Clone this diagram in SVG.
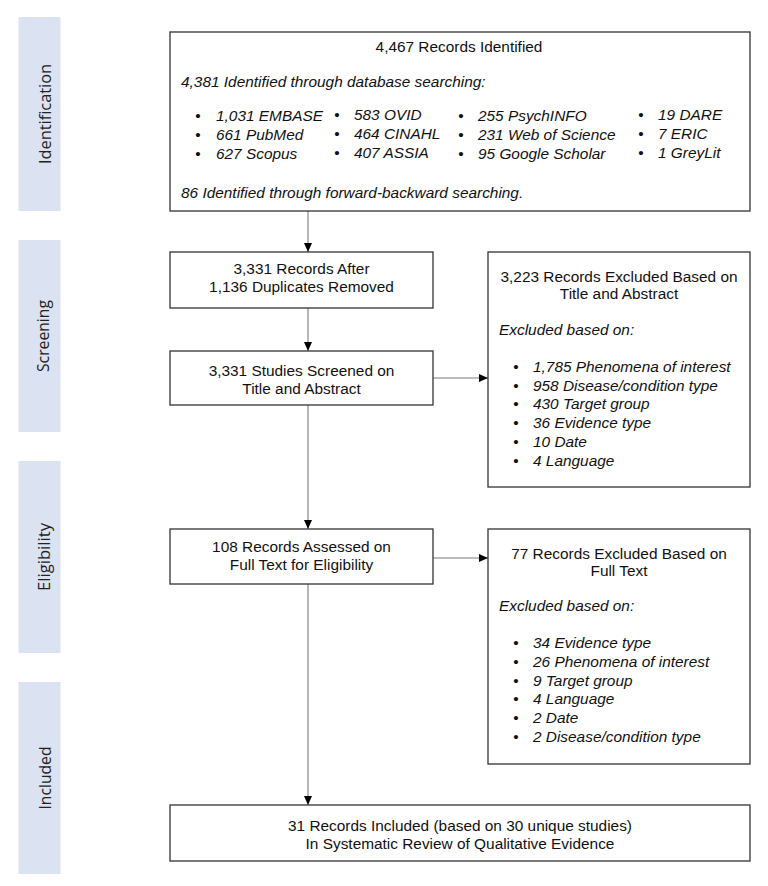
<svg xmlns="http://www.w3.org/2000/svg" width="768" height="886" viewBox="0 0 768 886">
<style>
.bg{fill:#ffffff}
.bar{fill:#dbe2f2}
.lab{font-family:"Open Sans","DejaVu Sans",sans-serif;font-size:16px;fill:#222222;text-anchor:middle}
.box{fill:#ffffff;stroke:#333333;stroke-width:1.3}
.t{font-family:"Liberation Sans",Arial,sans-serif;font-size:15.4px;fill:#111111}
.c{text-anchor:middle}
.i{font-style:italic}
.b{text-anchor:middle}
.con{stroke:#7a7a7a;stroke-width:1.1;fill:none}
</style>
<defs>
<marker id="ah" markerUnits="userSpaceOnUse" markerWidth="10" markerHeight="8" refX="9" refY="4" orient="auto">
<path d="M0,0 L9,4 L0,8 Z" fill="#000000"/>
</marker>
</defs>
<rect class="bg" x="0" y="0" width="768" height="886"/>

<g id="phases">
<rect class="bar" x="18.5" y="17" width="42" height="194"/>
<text class="lab" transform="translate(51,114) rotate(-90)" textLength="100" lengthAdjust="spacingAndGlyphs">Identification</text>
<rect class="bar" x="18.5" y="240" width="42" height="192"/>
<text class="lab" transform="translate(49,336) rotate(-90)" textLength="72" lengthAdjust="spacingAndGlyphs">Screening</text>
<rect class="bar" x="18.5" y="461" width="42" height="192"/>
<text class="lab" transform="translate(50,557) rotate(-90)" textLength="68" lengthAdjust="spacingAndGlyphs">Eligibility</text>
<rect class="bar" x="18.5" y="682" width="42" height="192"/>
<text class="lab" transform="translate(51,778) rotate(-90)" textLength="63" lengthAdjust="spacingAndGlyphs">Included</text>
</g>

<g id="connectors">
<line class="con" x1="308" y1="211" x2="308" y2="252" marker-end="url(#ah)"/>
<line class="con" x1="308" y1="308" x2="308" y2="351" marker-end="url(#ah)"/>
<line class="con" x1="308" y1="405" x2="308" y2="529" marker-end="url(#ah)"/>
<line class="con" x1="308" y1="584" x2="308" y2="805" marker-end="url(#ah)"/>
<line class="con" x1="433" y1="378" x2="488" y2="378" marker-end="url(#ah)"/>
<line class="con" x1="433" y1="558" x2="488" y2="558" marker-end="url(#ah)"/>
</g>

<g id="identified">
<rect class="box" x="170" y="32" width="580" height="179"/>
<text class="t c" x="459" y="51.5">4,467 Records Identified</text>
<text class="t i" x="181" y="86.5">4,381 Identified through database searching:</text>
<text class="t b" x="198" y="121">•</text><text class="t i" x="216" y="121">1,031 EMBASE</text>
<text class="t b" x="198" y="140">•</text><text class="t i" x="216" y="140">661 PubMed</text>
<text class="t b" x="198" y="158.5">•</text><text class="t i" x="216" y="158.5">627 Scopus</text>
<text class="t b" x="337" y="120">•</text><text class="t i" x="354" y="120">583 OVID</text>
<text class="t b" x="337" y="139">•</text><text class="t i" x="354" y="139">464 CINAHL</text>
<text class="t b" x="337" y="157.5">•</text><text class="t i" x="354" y="157.5">407 ASSIA</text>
<text class="t b" x="461" y="121">•</text><text class="t i" x="478" y="121">255 PsychINFO</text>
<text class="t b" x="461" y="140">•</text><text class="t i" x="478" y="140">231 Web of Science</text>
<text class="t b" x="461" y="158.5">•</text><text class="t i" x="478" y="158.5">95 Google Scholar</text>
<text class="t b" x="641" y="120">•</text><text class="t i" x="658" y="120">19 DARE</text>
<text class="t b" x="641" y="139">•</text><text class="t i" x="658" y="139">7 ERIC</text>
<text class="t b" x="641" y="157.5">•</text><text class="t i" x="658" y="157.5">1 GreyLit</text>
<text class="t i" x="181" y="198">86 Identified through forward-backward searching.</text>
</g>

<g id="dedup">
<rect class="box" x="170" y="252" width="263" height="56"/>
<text class="t c" x="301.5" y="273.5">3,331 Records After</text>
<text class="t c" x="301.5" y="291.5">1,136 Duplicates Removed</text>
</g>

<g id="screened">
<rect class="box" x="170" y="351" width="263" height="54"/>
<text class="t c" x="301.5" y="375.5">3,331 Studies Screened on</text>
<text class="t c" x="301.5" y="393.5">Title and Abstract</text>
</g>

<g id="excluded1">
<rect class="box" x="488" y="252" width="262" height="235"/>
<text class="t c" x="619" y="281.5">3,223 Records Excluded Based on</text>
<text class="t c" x="619" y="298.5">Title and Abstract</text>
<text class="t i" x="499" y="335">Excluded based on:</text>
<text class="t b" x="516" y="372">•</text><text class="t i" x="533" y="372">1,785 Phenomena of interest</text>
<text class="t b" x="516" y="390.7">•</text><text class="t i" x="533" y="390.7">958 Disease/condition type</text>
<text class="t b" x="516" y="409.4">•</text><text class="t i" x="533" y="409.4">430 Target group</text>
<text class="t b" x="516" y="428.1">•</text><text class="t i" x="533" y="428.1">36 Evidence type</text>
<text class="t b" x="516" y="446.8">•</text><text class="t i" x="533" y="446.8">10 Date</text>
<text class="t b" x="516" y="465.5">•</text><text class="t i" x="533" y="465.5">4 Language</text>
</g>

<g id="assessed">
<rect class="box" x="170" y="529" width="263" height="55"/>
<text class="t c" x="301.5" y="551.5">108 Records Assessed on</text>
<text class="t c" x="301.5" y="569.5">Full Text for Eligibility</text>
</g>

<g id="excluded2">
<rect class="box" x="488" y="529" width="262" height="235"/>
<text class="t c" x="619" y="558.5">77 Records Excluded Based on</text>
<text class="t c" x="619" y="576">Full Text</text>
<text class="t i" x="499" y="610.5">Excluded based on:</text>
<text class="t b" x="516" y="648.3">•</text><text class="t i" x="533" y="648.3">34 Evidence type</text>
<text class="t b" x="516" y="667">•</text><text class="t i" x="533" y="667">26 Phenomena of interest</text>
<text class="t b" x="516" y="685.7">•</text><text class="t i" x="533" y="685.7">9 Target group</text>
<text class="t b" x="516" y="704.4">•</text><text class="t i" x="533" y="704.4">4 Language</text>
<text class="t b" x="516" y="723.1">•</text><text class="t i" x="533" y="723.1">2 Date</text>
<text class="t b" x="516" y="741.8">•</text><text class="t i" x="533" y="741.8">2 Disease/condition type</text>
</g>

<g id="included">
<rect class="box" x="170" y="805" width="580" height="56"/>
<text class="t c" x="460" y="830.5">31 Records Included (based on 30 unique studies)</text>
<text class="t c" x="460" y="848.5">In Systematic Review of Qualitative Evidence</text>
</g>
</svg>
